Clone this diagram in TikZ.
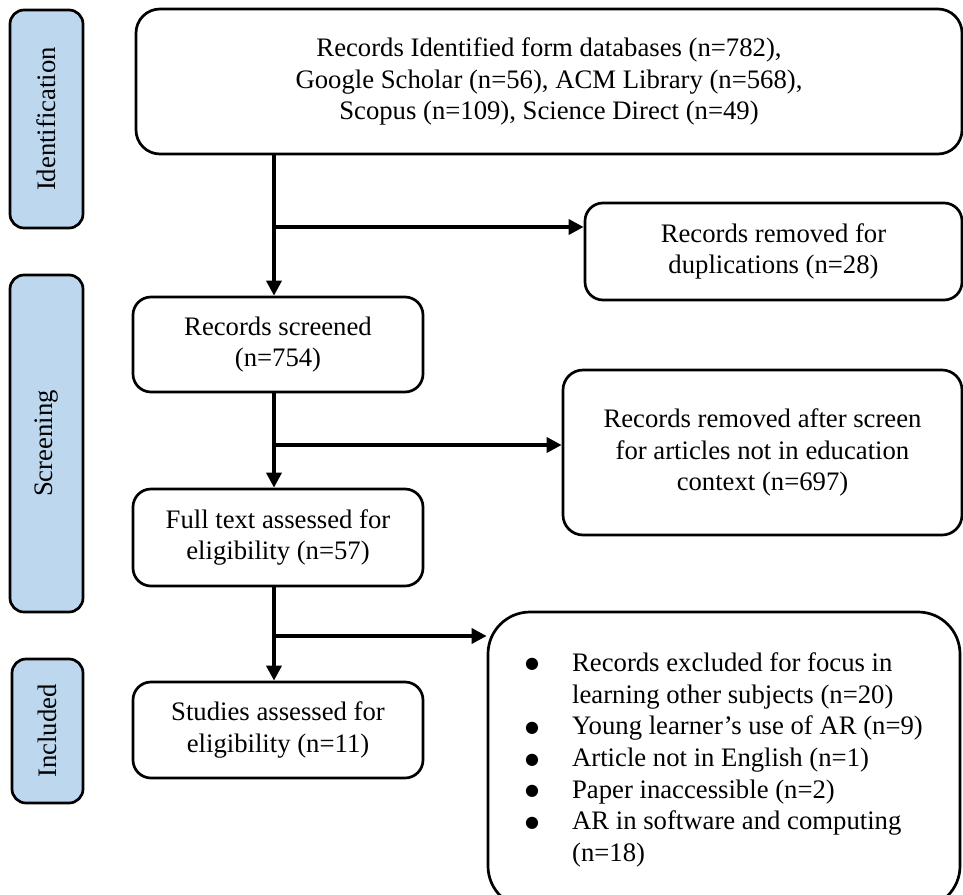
\documentclass[tikz,border=0pt]{standalone}
\usepackage{fontspec}
\setmainfont{Liberation Serif}
\newfontfamily\symfont{DejaVu Sans}
\usetikzlibrary{arrows.meta}
\definecolor{lblue}{RGB}{189,215,238}
\newcommand{\bul}{\makebox[47pt][l]{\raisebox{2.5pt}{\symfont\fontsize{16}{16}\selectfont ●}}}
\newcommand{\ind}{\hspace*{47pt}}
\begin{document}
\begin{tikzpicture}[x=1pt,y=-1pt,
  every node/.style={font=\fontsize{26.7}{31.7}\selectfont},
  box/.style={draw, line width=2.7pt, rounded corners=18pt, inner sep=0pt, align=center},
  stage/.style={draw, line width=2.7pt, fill=lblue, rounded corners=14pt, inner sep=0pt, rotate=90},
  arr/.style={line width=3.5pt, -{Triangle[length=15pt,width=15pt]}}]
\useasboundingbox (0,0) rectangle (963,894);
\clip (0,0) rectangle (963,894);
% stage labels
\node[stage, minimum width=218pt, minimum height=73pt] (id) at (46.5,119) {Identification};
\node[stage, minimum width=337pt, minimum height=73pt] (sc) at (46.5,443.5) {Screening};
\node[stage, minimum width=144pt, minimum height=71pt] (inc) at (47.5,731) {Included};
% boxes
\node[box, rounded corners=24pt, minimum width=826pt, minimum height=145pt] (src) at (549,81.5)
  {Records Identified form databases (n=782),\\Google Scholar (n=56), ACM Library (n=568),\\Scopus (n=109), Science Direct (n=49)};
\node[box, minimum width=377pt, minimum height=97pt] (dup) at (773.5,251.5)
  {Records removed for\\duplications (n=28)};
\node[box, minimum width=290pt, minimum height=95pt] (scr) at (278,344.5)
  {Records screened\\(n=754)};
\node[box, rounded corners=20pt, minimum width=399pt, minimum height=165pt] (rem) at (762.5,452.5)
  {Records removed after screen\\for articles not in education\\context (n=697)};
\node[box, minimum width=290pt, minimum height=97pt] (full) at (278,537.5)
  {Full text assessed for\\eligibility (n=57)};
\node[box, minimum width=290pt, minimum height=96pt] (stud) at (278,730)
  {Studies assessed for\\eligibility (n=11)};
\node[box, rounded corners=42pt, align=left, minimum width=472pt, minimum height=296pt] (excl) at (724,760)
  {\bul Records excluded for focus in\\
   \ind learning other subjects (n=20)\\
   \bul Young learner’s use of AR (n=9)\\
   \bul Article not in English (n=1)\\
   \bul Paper inaccessible (n=2)\\
   \bul AR in software and computing\\
   \ind (n=18)};
% connectors
\coordinate (b1) at (274,227);
\coordinate (b2) at (274,445);
\coordinate (b3) at (274,636);
\draw[arr] (src.south -| b1) -- (scr.north -| b1);
\draw[arr] (b1) -- (dup.west |- b1);
\draw[arr] (scr.south -| b2) -- (full.north -| b2);
\draw[arr] (b2) -- (rem.west |- b2);
\draw[arr] (full.south -| b3) -- (stud.north -| b3);
\draw[arr] (b3) -- (excl.west |- b3);
\end{tikzpicture}
\end{document}
